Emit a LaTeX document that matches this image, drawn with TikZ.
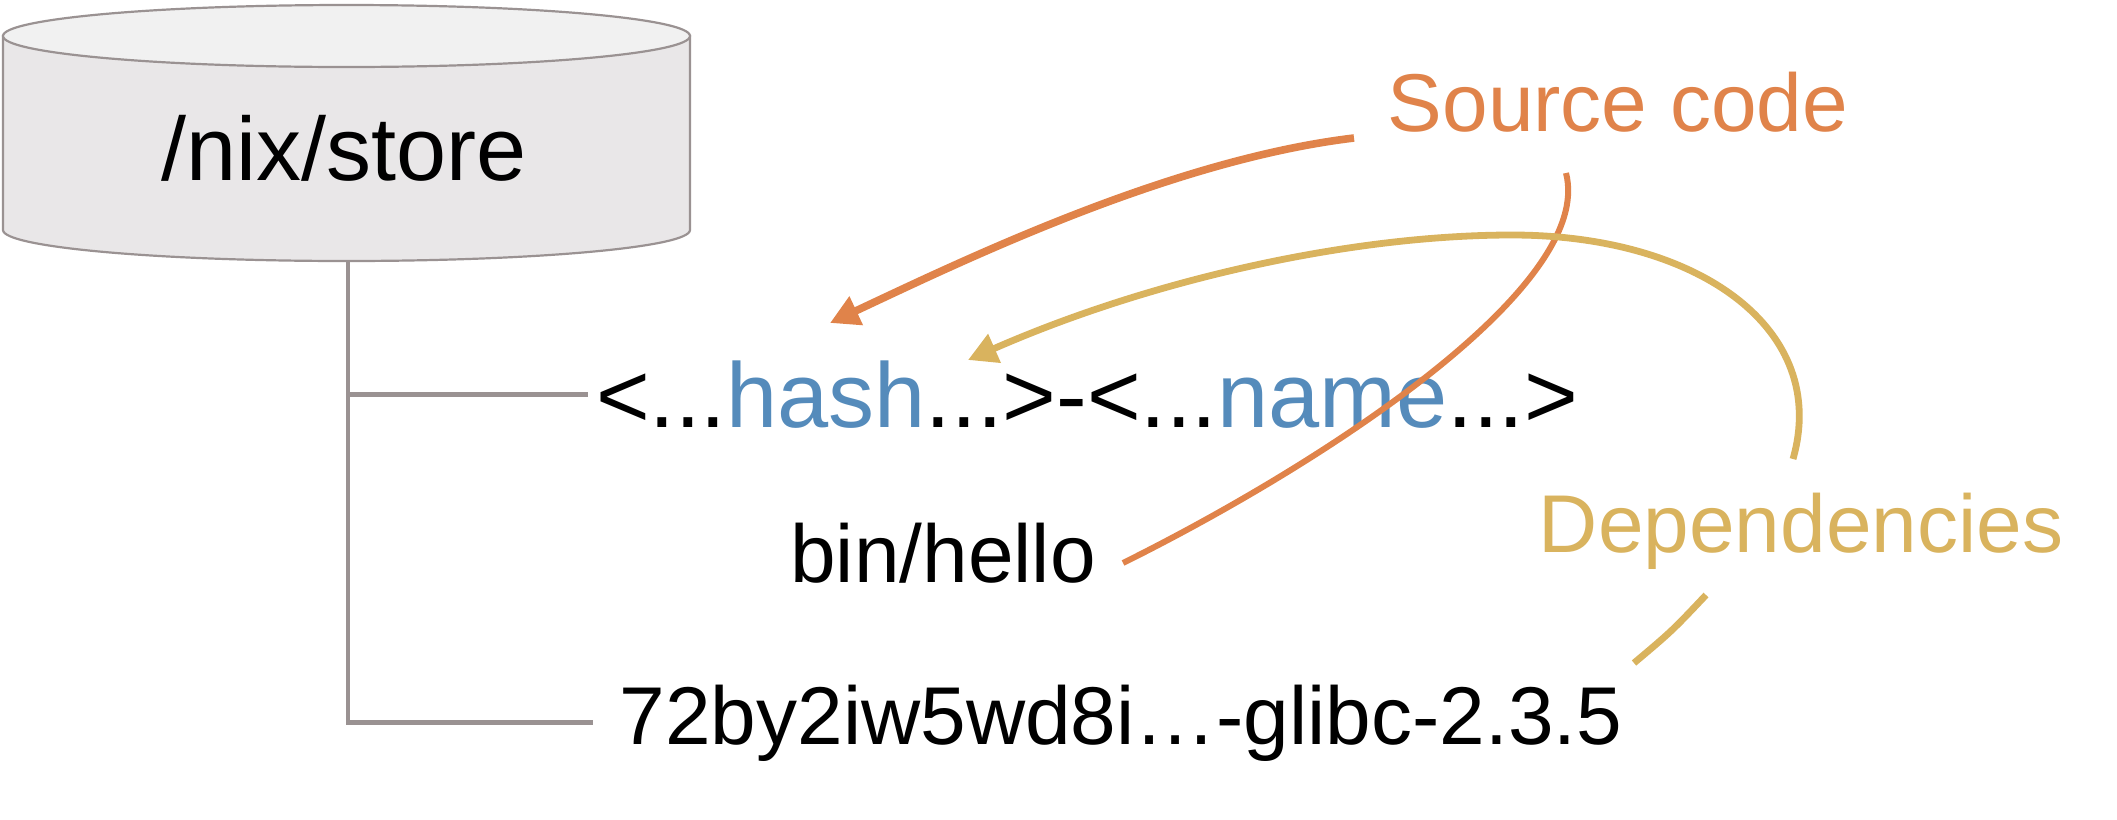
\documentclass[tikz,border=0pt]{standalone}
\usepackage{xcolor}
\usepackage{fontspec}
\setmainfont{Liberation Sans}
\usetikzlibrary{arrows.meta}
\definecolor{storeline}{HTML}{9A9292}
\definecolor{storetop}{HTML}{F1F1F1}
\definecolor{storebody}{HTML}{E9E7E8}
\definecolor{srcorange}{HTML}{E0834A}
\definecolor{depgold}{HTML}{D9B35E}
\definecolor{hashblue}{HTML}{558BBB}

\begin{document}
\begin{tikzpicture}[x=0.5pt, y=-0.5pt,
    pathtext/.style={anchor=base, inner sep=4pt, font=\fontsize{41}{49}\selectfont},
    treeline/.style={draw=storeline, line width=2.4pt},
    srcline/.style={draw=srcorange, line width=3pt},
    depline/.style={draw=depgold, line width=3.4pt},
    tiphead/.style={-{Triangle[length=14.5pt,width=15pt]}}]
    \useasboundingbox (0,0) rectangle (2117,820);

    % the store
    \path[fill=storebody, draw=storeline, line width=1.1pt]
      (3,36) -- (3,230) arc[start angle=180, end angle=0, x radius=343.5, y radius=31]
      -- (690,36) -- cycle;
    \filldraw[fill=storetop, draw=storeline, line width=1.1pt]
      (346.5,36) ellipse[x radius=343.5, y radius=31];
    \node[pathtext, font=\fontsize{45}{54}\selectfont] (store) at (344,180) {/nix/store};
    \coordinate (storebase) at (348,261);

    % store paths
    \node[pathtext, font=\fontsize{46}{55}\selectfont] (hashname) at (1087,427)
      {<...\textcolor{hashblue}{hash}...>-<...\textcolor{hashblue}{name}...>};
    \node[pathtext] (binhello) at (943,582) {bin/hello};
    \node[pathtext] (glibc) at (1121,744) {72by2iw5wd8i…-glibc-2.3.5};

    \draw[treeline] (storebase) |- ([xshift=-9pt]glibc.west);
    \draw[treeline] (storebase |- hashname.west) -- (hashname.west);

    % inputs
    \node[pathtext, text=srcorange] (src) at (1618,131) {Source code};
    \node[pathtext, text=depgold] (deps) at (1801,552) {Dependencies};

    \coordinate (srcfoot) at (1354,138);
    \coordinate (hashtip) at (830,323);
    \coordinate (binout) at (1123,563);
    \coordinate (srchook) at (1566,173);
    \coordinate (depstop) at (1793,459);
    \coordinate (hashtop) at (968,360);
    \coordinate (depsfoot) at (1706,595);
    \coordinate (glibcend) at (1634,663);

    \draw[srcline, line width=3.8pt, tiphead] (srcfoot) .. controls (1170,160) and (960,262) .. (hashtip);
    \draw[srcline] (binout) .. controls (1330,460) and (1595,285) .. (srchook);
    \draw[depline, tiphead] (depstop) .. controls (1830,330) and (1700,235) .. (1512,235)
      .. controls (1350,235) and (1150,280) .. (hashtop);
    \draw[depline] (depsfoot) .. controls (1672,631) .. (glibcend);
\end{tikzpicture}
\end{document}
